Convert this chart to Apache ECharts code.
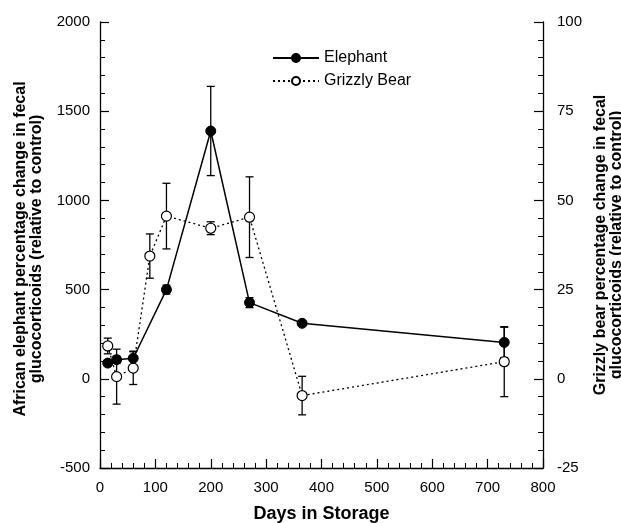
<!DOCTYPE html>
<html><head><meta charset="utf-8">
<script src="https://cdn.jsdelivr.net/npm/echarts@6/dist/echarts.min.js"></script>
<style>html,body{margin:0;padding:0;background:#fff}#c{width:621px;height:523px}</style>
</head><body><div id="c"></div>
<script>
const xTicks = [0,100,200,300,400,500,600,700,800];
const leftTicks = [-500,0,500,1000,1500,2000];
const rightTicks = [-25,0,25,50,75,100];

const elephantDays = [14,30,60,120,200,270,365,730];
const elephantMean = [88,107,115,500,1389,427,311,204];
const elephantErr  = [15,20,40,25,250,28,10,85];

const grizzlyDays = [14,30,60,90,120,200,270,365,730];
const grizzlyMean = [9.2,0.6,3.0,34.4,45.6,42.2,45.3,-4.7,4.8];
const grizzlyErr  = [2.2,7.7,4.6,6.2,9.2,1.8,11.3,5.4,9.8];

const FONT = "'Liberation Sans', Arial, sans-serif";
const chart = echarts.init(document.getElementById('c'));

function errSeries(name, days, mean, err, yIdx) {
  return {
    type: 'custom', name: name + ' err', yAxisIndex: yIdx, z: 2, silent: true,
    data: days.map((d, i) => [d, mean[i] - err[i], mean[i] + err[i]]),
    renderItem: function (params, api) {
      const x = api.value(0);
      const lo = api.coord([x, api.value(1)]);
      const hi = api.coord([x, api.value(2)]);
      const w = 4;
      const st = { stroke: '#000', lineWidth: 1.3 };
      return { type: 'group', children: [
        { type: 'line', shape: { x1: lo[0], y1: lo[1], x2: hi[0], y2: hi[1] }, style: st },
        { type: 'line', shape: { x1: hi[0] - w, y1: hi[1], x2: hi[0] + w, y2: hi[1] }, style: st },
        { type: 'line', shape: { x1: lo[0] - w, y1: lo[1], x2: lo[0] + w, y2: lo[1] }, style: st }
      ]};
    }
  };
}

const plain = v => String(v);

const axisCommon = {
  axisLine: { show: true, onZero: false, lineStyle: { color: '#000', width: 1.3 } },
  axisTick: { show: true, inside: true, length: 9, lineStyle: { color: '#000', width: 1.2 } },
  minorTick: { show: true, splitNumber: 5, length: 5, lineStyle: { color: '#000', width: 1 } },
  splitLine: { show: false },
  axisLabel: { color: '#000', fontSize: 15, fontFamily: FONT, formatter: plain },
  nameTextStyle: { color: '#000', fontSize: 16, fontWeight: 'bold', fontFamily: FONT, lineHeight: 16 }
};

chart.setOption({
  animation: false,
  backgroundColor: '#fff',
  grid: { left: 100, right: 78, top: 22, bottom: 55, outerBoundsMode: 'none', containLabel: false },
  legend: {
    data: ['Elephant', 'Grizzly Bear'],
    orient: 'vertical', left: 267, top: 45,
    itemWidth: 46, itemHeight: 10, itemGap: 7,
    textStyle: { color: '#000', fontSize: 16, fontFamily: FONT },
    selectedMode: false
  },
  xAxis: Object.assign({}, axisCommon, {
    type: 'value', min: xTicks[0], max: xTicks[xTicks.length - 1], interval: 100,
    name: 'Days in Storage', nameLocation: 'middle', nameGap: 38,
    nameTextStyle: Object.assign({}, axisCommon.nameTextStyle, { fontSize: 18 }),
    axisLabel: Object.assign({}, axisCommon.axisLabel, { margin: 12 })
  }),
  yAxis: [
    Object.assign({}, axisCommon, {
      type: 'value', min: leftTicks[0], max: leftTicks[leftTicks.length - 1], interval: 500,
      position: 'left',
      name: 'African elephant percentage change in fecal\nglucocorticoids (relative to control)',
      nameLocation: 'middle', nameGap: 55,
      nameTextStyle: Object.assign({}, axisCommon.nameTextStyle, { padding: [0, 8, 0, 0] }),
      axisLabel: Object.assign({}, axisCommon.axisLabel, { margin: 10 })
    }),
    Object.assign({}, axisCommon, {
      type: 'value', min: rightTicks[0], max: rightTicks[rightTicks.length - 1], interval: 25,
      position: 'right',
      name: 'Grizzly bear percentage change in fecal\nglucocorticoids (relative to control)',
      nameLocation: 'middle', nameGap: 42,
      axisLabel: Object.assign({}, axisCommon.axisLabel, { margin: 14 })
    })
  ],
  series: [
    errSeries('Elephant', elephantDays, elephantMean, elephantErr, 0),
    errSeries('Grizzly Bear', grizzlyDays, grizzlyMean, grizzlyErr, 1),
    {
      name: 'Grizzly Bear', type: 'line', yAxisIndex: 1, z: 3,
      data: grizzlyDays.map((d, i) => [d, grizzlyMean[i]]),
      symbol: 'circle', symbolSize: 10,
      itemStyle: { color: '#fff', borderColor: '#000', borderWidth: 1.2 },
      lineStyle: { color: '#000', width: 1.3, type: [2, 3] }
    },
    {
      name: 'Elephant', type: 'line', yAxisIndex: 0, z: 4,
      data: elephantDays.map((d, i) => [d, elephantMean[i]]),
      symbol: 'circle', symbolSize: 10,
      itemStyle: { color: '#000', borderColor: '#000', borderWidth: 1 },
      lineStyle: { color: '#000', width: 1.5 }
    }
  ]
});
</script></body></html>
